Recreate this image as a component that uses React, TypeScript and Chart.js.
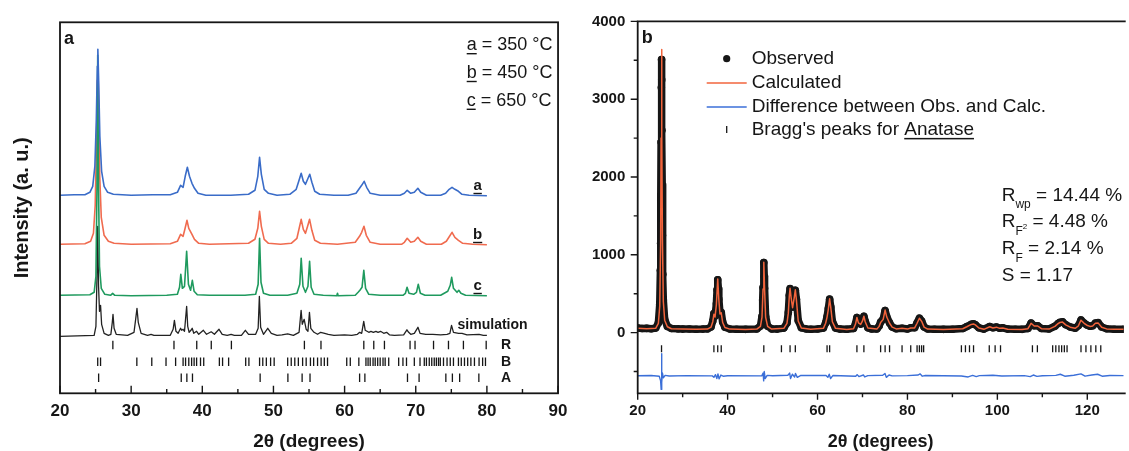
import React, { useEffect, useRef } from "react";
import { Chart, registerables } from "chart.js";

Chart.register(...registerables);

const FONT = '"Liberation Sans", Arial, Helvetica, sans-serif';
const INK = "#161616";
const BLUE = "#3a6cc8";
const RED = "#f06b4f";
const GREEN = "#1f9a5e";
const CALC = "#f2643c";
const DIFF = "#3b6fd8";

// ================= Panel a =================
const xMajorA = [20, 30, 40, 50, 60, 70, 80, 90];
const xMinorA = [25, 35, 45, 55, 65, 75, 85];

const offset350 = 197;
const offset450 = 148;
const offset650 = 97;
const offsetSim = 57;

const pattern350: [number, number][] = [
  [20, 1], [22, 1.5], [23.5, 1.5], [24.2, 4], [24.6, 10], [24.9, 30], [25.1, 75], [25.25, 130], [25.32, 147],
  [25.42, 120], [25.6, 60], [25.85, 25], [26.2, 10], [26.7, 4], [27.5, 2], [30, 1], [33, 1.5], [35.5, 1.5],
  [36.5, 4], [36.95, 11], [37.3, 9], [37.6, 20], [37.9, 29], [38.2, 20], [38.55, 13], [38.9, 8], [39.4, 3],
  [40.5, 1], [44, 1], [46.5, 2], [47.4, 6], [47.8, 20], [48.05, 39], [48.3, 22], [48.7, 7], [49.3, 3],
  [50.5, 1], [52.3, 2], [53.2, 7], [53.6, 16], [53.9, 23], [54.2, 15], [54.5, 12], [54.8, 17], [55.1, 22],
  [55.4, 14], [55.8, 5], [56.5, 2], [58.5, 1], [60.5, 1], [61.6, 3], [62.1, 8], [62.4, 11], [62.75, 15],
  [63.1, 9], [63.6, 3], [65, 1], [67.8, 1], [68.4, 3], [68.8, 6], [69.3, 3], [69.8, 4], [70.3, 8], [70.7, 4],
  [71.5, 1], [73.5, 1], [74.2, 3], [74.7, 7], [75.1, 9], [75.5, 7], [76.0, 5], [76.5, 2], [77.5, 1], [80, 0.5],
];

const pattern450: [number, number][] = [
  [20, 1], [23.5, 1.5], [24.3, 4], [24.7, 12], [24.95, 40], [25.12, 100], [25.25, 165], [25.32, 183],
  [25.42, 150], [25.58, 70], [25.8, 28], [26.2, 10], [26.8, 4], [27.6, 2], [30, 1], [35.5, 1.5], [36.5, 4],
  [36.95, 11], [37.3, 9], [37.55, 16], [37.85, 25], [38.1, 17], [38.55, 11], [38.9, 6], [39.5, 2], [41, 1],
  [46.5, 2], [47.4, 6], [47.8, 17], [48.05, 34], [48.3, 19], [48.7, 6], [49.3, 2], [51, 1], [52.5, 2],
  [53.3, 7], [53.65, 18], [53.9, 26], [54.2, 16], [54.5, 12], [54.8, 19], [55.08, 26], [55.4, 15], [55.8, 5],
  [56.6, 2], [59, 1], [61.5, 3], [62.1, 9], [62.4, 13], [62.72, 19], [63.05, 10], [63.6, 3], [65, 1], [68, 1],
  [68.4, 3], [68.8, 7], [69.3, 3], [69.8, 4], [70.3, 8], [70.7, 4], [71.5, 1], [73.6, 1], [74.3, 4],
  [74.75, 9], [75.1, 13], [75.5, 8], [76.0, 5], [76.6, 2], [78, 1], [80, 0.5],
];

const pattern650: [number, number][] = [
  [20, 1], [24.2, 1.5], [24.8, 4], [25.05, 20], [25.2, 110], [25.3, 241], [25.4, 120], [25.55, 30], [25.8, 8],
  [26.3, 2], [27.1, 1], [27.4, 3], [27.7, 1], [30, 0.5], [35, 1], [36.5, 2], [36.8, 9], [36.98, 22], [37.2, 8],
  [37.5, 10], [37.8, 45], [38.05, 12], [38.35, 6], [38.6, 16], [38.85, 5], [39.3, 1.5], [41, 1], [46, 1],
  [47.5, 2], [47.85, 12], [48.05, 58], [48.25, 14], [48.6, 3], [49.5, 1], [52, 1], [53.3, 3], [53.7, 12],
  [53.9, 38], [54.15, 10], [54.5, 4], [54.85, 10], [55.08, 35], [55.3, 9], [55.7, 2], [57, 1], [58.9, 0.5],
  [59.0, 3], [59.1, 0.5], [61.5, 1], [61.9, 4], [62.15, 6], [62.45, 9], [62.7, 26], [62.95, 8], [63.4, 2],
  [65, 1], [68.2, 1], [68.55, 3], [68.78, 9], [69.05, 3], [69.7, 2], [70.1, 4], [70.35, 12], [70.65, 3],
  [71.3, 1], [73.5, 1], [74.0, 3], [74.5, 5], [74.85, 11], [75.05, 19], [75.3, 8], [75.8, 4], [76.05, 6],
  [76.35, 3], [77, 1], [80, 0.5],
];

const simulation: [number, number][] = [
  [20, 0], [24.8, 1], [25.05, 10], [25.2, 60], [25.3, 110], [25.42, 50], [25.55, 25], [25.7, 31], [25.85, 12],
  [26.2, 3], [26.8, 1], [27.15, 2], [27.35, 14], [27.45, 22], [27.6, 8], [27.9, 2], [29.5, 1], [30.4, 4],
  [30.65, 18], [30.82, 28], [31.0, 14], [31.4, 3], [32.3, 1], [32.8, 2], [33.2, 1], [35.5, 1], [35.9, 7],
  [36.08, 16], [36.3, 5], [36.6, 3], [36.95, 8], [37.1, 6], [37.3, 7], [37.5, 5], [37.8, 30], [37.95, 10],
  [38.15, 4], [38.4, 6], [38.58, 8], [38.8, 3], [39.2, 5], [39.5, 2], [40.15, 6], [40.6, 2], [41.25, 4.5],
  [41.7, 2], [42.35, 7], [42.8, 2], [43.5, 1], [44.05, 2], [44.5, 1], [45.5, 1], [46.05, 6], [46.5, 2],
  [47.5, 2], [47.85, 8], [48.02, 40], [48.2, 9], [48.6, 2], [49.2, 8], [49.7, 3], [50.5, 1], [51.2, 1.5],
  [52.0, 2.5], [52.8, 1], [53.6, 4], [53.89, 26], [54.05, 12], [54.32, 17], [54.6, 7], [54.85, 5], [55.06, 24],
  [55.25, 8], [55.7, 4], [56.2, 2], [56.64, 4], [57.2, 3], [57.7, 2], [58.5, 1], [59.99, 1.5], [61, 1],
  [61.8, 2], [62.12, 4], [62.4, 3], [62.69, 15], [62.9, 6], [63.4, 4], [63.7, 5], [64.04, 4], [64.4, 5],
  [64.7, 4], [65.05, 5], [65.5, 3], [65.9, 4], [66.3, 1.5], [67, 1], [68.3, 1.5], [68.76, 6.5], [69.0, 4],
  [69.3, 2], [69.8, 3], [70.31, 9], [70.6, 3], [71.4, 2], [72.4, 2], [73.5, 1.5], [74.4, 2], [74.8, 3],
  [75.03, 11], [75.3, 4], [76.02, 3], [76.5, 3], [77.2, 1.5], [78.9, 2], [79.5, 1], [80, 1],
];

const rutileTicks = [27.43, 36.02, 39.22, 41.26, 44.09, 54.35, 56.68, 62.7, 64.1, 65.6, 69.2, 69.9, 72.5, 74.6, 76.7, 79.9];
const brookiteTicks = [
  25.3, 25.7, 30.8, 32.9, 34.9, 36.25, 37.3, 37.65, 38.1, 38.5, 38.85, 39.2, 39.75, 40.2, 42.4, 42.85, 43.7,
  46.1, 46.55, 48.05, 48.5, 49.0, 49.6, 50.1, 52.0, 52.5, 53.0, 53.5, 54.1, 54.6, 55.2, 55.65, 56.2, 56.7,
  57.15, 57.6, 60.3, 60.8, 62.0, 63.0, 63.3, 63.6, 64.0, 64.3, 64.65, 65.0, 65.4, 65.7, 66.2, 67.6, 68.2,
  68.7, 69.8, 70.6, 71.2, 71.5, 71.9, 72.25, 72.6, 72.9, 73.2, 73.45, 73.9, 74.4, 74.85, 75.3, 76.0, 76.4,
  76.85, 77.3, 77.75, 78.25, 78.9, 79.4, 79.8,
];
const anataseTicksA = [25.43, 37.04, 37.83, 38.62, 48.13, 52.03, 54.03, 55.14, 62.11, 62.85, 68.84, 70.47, 74.23, 75.15, 76.17, 78.87];
const rowR = 48.3;
const rowB = 31.6;
const rowA = 15.6;
const phaseRows: [string, number][] = [["R", rowR], ["B", rowB], ["A", rowA]];
const tempLegend: [string, string][] = [["a", " = 350 °C"], ["b", " = 450 °C"], ["c", " = 650 °C"]];
const curveTags: [string, number][] = [["a", offset350], ["b", offset450], ["c", offset650]];

// ================= Panel b =================
const xMajorB = [20, 40, 60, 80, 100, 120];
const xMinorB = [30, 50, 70, 90, 110];
const yMajorB = [0, 1000, 2000, 3000, 4000];
const yMinorB = [-500, 500, 1500, 2500, 3500];

const calculatedProfile: [number, number][] = [
  [20, 55], [22, 50], [24, 55], [24.6, 120], [24.9, 340], [25.1, 1150], [25.2, 2500], [25.3, 3640], [25.4, 2550],
  [25.5, 1200], [25.7, 400], [26.0, 160], [26.6, 75], [27.5, 50], [30, 45], [33, 42], [35.5, 45], [36.3, 70],
  [36.7, 140], [36.95, 235], [37.2, 200], [37.5, 360], [37.8, 690], [38.05, 420], [38.3, 240], [38.58, 255],
  [38.9, 130], [39.4, 65], [40.5, 45], [44, 40], [46.5, 45], [47.3, 80], [47.65, 200], [47.88, 560],
  [48.05, 905], [48.22, 560], [48.45, 200], [48.9, 80], [49.8, 45], [52.5, 55], [53.2, 120], [53.5, 250],
  [53.72, 470], [53.89, 570], [54.1, 460], [54.45, 320], [54.82, 450], [55.06, 550], [55.3, 420], [55.7, 150],
  [56.4, 60], [58.5, 42], [61.3, 55], [61.8, 120], [62.12, 200], [62.4, 300], [62.69, 435], [62.95, 320],
  [63.3, 140], [64.0, 55], [66.5, 40], [68.0, 50], [68.45, 110], [68.76, 195], [69.1, 125], [69.6, 105],
  [70.0, 150], [70.31, 210], [70.6, 140], [71.2, 60], [73.2, 45], [73.7, 80], [74.03, 130], [74.6, 170],
  [75.03, 290], [75.4, 200], [76.02, 120], [76.6, 70], [77.5, 48], [78.8, 55], [80.0, 45], [80.73, 60],
  [81.6, 60], [82.14, 120], [82.66, 185], [83.15, 145], [83.7, 70], [84.5, 45], [88, 40], [92.3, 50],
  [93.2, 75], [94.2, 105], [94.7, 110], [95.1, 100], [95.9, 60], [97.0, 42], [98.3, 75], [99.0, 60],
  [99.8, 70], [100.5, 55], [101.2, 60], [102.3, 42], [105.5, 40], [106.8, 50], [107.5, 120], [108.2, 85],
  [108.97, 85], [109.8, 50], [111.5, 45], [112.8, 80], [113.5, 115], [113.9, 130], [114.5, 135], [115.2, 100],
  [116.2, 70], [117.3, 55], [118.0, 85], [118.6, 160], [119.3, 120], [119.9, 95], [120.6, 80], [121.2, 85],
  [121.8, 120], [122.4, 125], [123.2, 70], [124.3, 48], [126, 42], [128.1, 42],
];

const observedProfile: [number, number][] = [
  [20, 60], [21, 52], [22, 55], [23, 50], [24, 58], [24.6, 125], [24.9, 360], [25.05, 800], [25.1, 1150],
  [25.15, 1700], [25.2, 2450], [25.25, 3150], [25.3, 3510], [25.35, 3250], [25.4, 2600], [25.45, 1900],
  [25.5, 1250], [25.6, 750], [25.7, 420], [26.0, 170], [26.6, 80], [27.5, 52], [29, 48], [30, 45], [31.5, 47],
  [33, 43], [34.5, 45], [35.5, 48], [36.3, 72], [36.7, 150], [36.95, 245], [37.2, 210], [37.5, 370],
  [37.65, 550], [37.8, 680], [37.95, 560], [38.05, 430], [38.3, 250], [38.58, 260], [38.9, 135], [39.4, 68],
  [40.5, 46], [42, 44], [44, 42], [46.5, 47], [47.3, 85], [47.65, 210], [47.8, 420], [47.88, 580], [48.05, 900],
  [48.15, 720], [48.22, 570], [48.45, 210], [48.9, 82], [49.8, 48], [51, 45], [52.5, 58], [53.2, 125],
  [53.5, 260], [53.72, 480], [53.89, 565], [54.1, 470], [54.45, 330], [54.82, 455], [55.06, 545], [55.3, 430],
  [55.7, 155], [56.4, 62], [57.5, 47], [58.5, 44], [60, 46], [61.3, 58], [61.8, 125], [62.12, 205], [62.4, 310],
  [62.69, 430], [62.95, 330], [63.3, 145], [64.0, 58], [65, 45], [66.5, 43], [68.0, 52], [68.45, 115],
  [68.76, 195], [69.1, 130], [69.6, 110], [70.0, 155], [70.31, 210], [70.6, 145], [71.2, 62], [72, 48],
  [73.2, 47], [73.7, 85], [74.03, 135], [74.6, 175], [75.03, 285], [75.4, 205], [76.02, 125], [76.6, 72],
  [77.5, 50], [78.8, 57], [80.0, 47], [80.73, 62], [81.6, 62], [82.14, 125], [82.66, 185], [83.15, 150],
  [83.7, 72], [84.5, 47], [86, 44], [88, 42], [90, 43], [92.3, 52], [93.2, 78], [94.2, 108], [94.7, 112],
  [95.1, 102], [95.9, 62], [97.0, 45], [98.3, 78], [99.0, 62], [99.8, 72], [100.5, 57], [101.2, 62],
  [102.3, 45], [104, 43], [105.5, 42], [106.8, 52], [107.5, 122], [108.2, 88], [108.97, 88], [109.8, 52],
  [111.5, 47], [112.8, 82], [113.5, 118], [113.9, 132], [114.5, 138], [115.2, 102], [116.2, 72], [117.3, 57],
  [118.0, 88], [118.6, 162], [119.3, 122], [119.9, 98], [120.6, 82], [121.2, 88], [121.8, 122], [122.4, 128],
  [123.2, 72], [124.3, 50], [126, 44], [128.1, 44],
];

const differenceProfile: [number, number][] = [
  [20, -555], [23, -552], [24.8, -560], [25.1, -620], [25.22, -730], [25.3, -270], [25.38, -640], [25.5, -520],
  [25.7, -580], [26.1, -550], [27, -557], [31, -553], [36.6, -556], [36.95, -575], [37.3, -540], [37.6, -590],
  [37.85, -530], [38.1, -595], [38.5, -545], [39, -560], [40, -554], [47.6, -556], [47.9, -520], [48.02, -620],
  [48.15, -500], [48.35, -590], [48.8, -550], [50, -555], [53.4, -548], [53.8, -520], [54.0, -590],
  [54.4, -535], [54.9, -570], [55.1, -525], [55.5, -575], [56.2, -552], [61.9, -550], [62.3, -575],
  [62.6, -535], [62.9, -590], [63.4, -552], [68.5, -560], [68.8, -540], [69.2, -565], [70.2, -545],
  [70.5, -570], [71.2, -553], [74.5, -548], [75.0, -525], [75.3, -575], [75.9, -545], [76.6, -556], [80, -553],
  [82.4, -545], [82.8, -530], [83.3, -560], [84, -552], [92, -557], [93.5, -570], [94.5, -550], [95.3, -565],
  [96, -553], [99, -548], [101, -558], [106, -553], [107.3, -565], [108, -545], [108.8, -562], [110, -554],
  [113, -550], [114, -535], [115, -560], [117, -548], [118.6, -530], [119.5, -560], [121, -545], [122.3, -535],
  [123.3, -560], [125, -552], [128.1, -553],
];

const braggAnatase = [
  25.3, 36.95, 37.8, 38.58, 48.05, 51.97, 53.89, 55.06, 62.12, 62.69, 68.76, 70.31, 74.03, 75.03, 76.02, 78.8,
  80.73, 82.14, 82.66, 83.15, 83.6, 92.0, 92.9, 93.8, 94.7, 98.2, 99.5, 100.7, 107.8, 108.9, 112.3, 113.0,
  113.7, 114.3, 114.9, 115.5, 118.6, 119.7, 120.8, 121.9, 123.0,
];
const braggRow = -207;

const legendB = ["Observed", "Calculated", "Difference between Obs. and Calc.", "Bragg's peaks for "];
const fitStats: [string, string, string, string][] = [
  ["R", "wp", "", " = 14.44 %"],
  ["R", "F", "2", " = 4.48 %"],
  ["R", "F", "", " = 2.14 %"],
  ["S", "", "", " = 1.17"],
];

// ================= helpers =================
const toXY = (pts: [number, number][], off = 0) => pts.map(([x, y]) => ({ x, y: y + off }));
const tickRow = (xs: number[], row: number) => xs.map((x) => ({ x, y: row }));

const lineDs = (data: any[], color: string, width: number) => ({
  data,
  borderColor: color,
  borderWidth: width,
  pointRadius: 0,
  tension: 0,
  fill: false,
  borderJoinStyle: "round",
});

const tickDs = (data: any[], radius: number) => ({
  data,
  showLine: false,
  pointStyle: "line",
  pointRotation: 90,
  rotation: 90,
  pointRadius: radius,
  pointBorderWidth: 1.3,
  pointBorderColor: INK,
  borderColor: INK,
  backgroundColor: INK,
});

const decorA = {
  id: "decorA",
  afterDraw(chart: any) {
    const { ctx, chartArea: ca, scales } = chart;
    const sx = scales.x;
    const sy = scales.y;
    ctx.save();
    ctx.strokeStyle = INK;
    ctx.lineWidth = 1.8;
    ctx.strokeRect(ca.left, ca.top, ca.right - ca.left, ca.bottom - ca.top);
    ctx.beginPath();
    xMajorA.forEach((v) => {
      const p = sx.getPixelForValue(v);
      ctx.moveTo(p, ca.bottom);
      ctx.lineTo(p, ca.bottom - 7.5);
    });
    xMinorA.forEach((v) => {
      const p = sx.getPixelForValue(v);
      ctx.moveTo(p, ca.bottom);
      ctx.lineTo(p, ca.bottom - 4.3);
    });
    ctx.lineWidth = 1.4;
    ctx.stroke();

    ctx.fillStyle = INK;
    ctx.textBaseline = "middle";
    ctx.textAlign = "left";
    ctx.font = `bold 18px ${FONT}`;
    ctx.fillText("a", ca.left + 4, ca.top + 17);

    ctx.font = `18px ${FONT}`;
    tempLegend.forEach(([letter, rest], i) => {
      const x = ca.left + 406.7;
      const y = ca.top + 22.7 + i * 27.8;
      ctx.fillText(letter, x, y);
      const w = ctx.measureText(letter).width;
      ctx.fillRect(x, y + 8, w, 1.4);
      ctx.fillText(rest, x + w, y);
    });

    ctx.font = `bold 15px ${FONT}`;
    ctx.textAlign = "center";
    curveTags.forEach(([t, off]) => {
      const x = sx.getPixelForValue(78.7);
      const y = sy.getPixelForValue(off + 10.5);
      ctx.fillText(t, x, y);
      const w = ctx.measureText(t).width;
      ctx.fillRect(x - w / 2, y + 7, w, 1.4);
    });

    ctx.font = `bold 14px ${FONT}`;
    ctx.fillText("simulation", sx.getPixelForValue(80.8), sy.getPixelForValue(offsetSim + 11.5));
    phaseRows.forEach(([t, row]) => {
      ctx.fillText(t, sx.getPixelForValue(82.7), sy.getPixelForValue(row));
    });
    ctx.restore();
  },
};

const decorB = {
  id: "decorB",
  afterDraw(chart: any) {
    const { ctx, chartArea: ca, scales } = chart;
    const sx = scales.x;
    const sy = scales.y;
    ctx.save();
    ctx.strokeStyle = INK;
    ctx.lineWidth = 1.8;
    ctx.beginPath();
    ctx.moveTo(ca.right + 2, ca.top);
    ctx.lineTo(ca.left, ca.top);
    ctx.lineTo(ca.left, ca.bottom);
    ctx.lineTo(ca.right + 2, ca.bottom);
    ctx.stroke();

    ctx.beginPath();
    yMajorB.forEach((v) => {
      const p = sy.getPixelForValue(v);
      ctx.moveTo(ca.left, p);
      ctx.lineTo(ca.left - 7, p);
    });
    yMinorB.forEach((v) => {
      const p = sy.getPixelForValue(v);
      ctx.moveTo(ca.left, p);
      ctx.lineTo(ca.left - 4, p);
    });
    xMajorB.forEach((v) => {
      const p = sx.getPixelForValue(v);
      ctx.moveTo(p, ca.bottom);
      ctx.lineTo(p, ca.bottom + 6.5);
    });
    xMinorB.forEach((v) => {
      const p = sx.getPixelForValue(v);
      ctx.moveTo(p, ca.bottom);
      ctx.lineTo(p, ca.bottom + 4);
    });
    ctx.lineWidth = 1.4;
    ctx.stroke();

    ctx.fillStyle = INK;
    ctx.textBaseline = "middle";
    ctx.textAlign = "left";
    ctx.font = `bold 18px ${FONT}`;
    ctx.fillText("b", ca.left + 4, ca.top + 16.5);

    // legend
    const rows = [37.3, 61.5, 85.7, 108];
    const markX = ca.left + 89;
    const textX = ca.left + 114;
    ctx.font = `19px ${FONT}`;
    legendB.forEach((t, i) => {
      ctx.fillStyle = INK;
      ctx.fillText(t, textX, ca.top + rows[i]);
    });
    const wB = ctx.measureText(legendB[3]).width;
    const yB = ca.top + rows[3];
    ctx.fillText("Anatase", textX + wB, yB);
    const wA = ctx.measureText("Anatase").width;
    ctx.fillRect(textX + wB, yB + 8.5, wA, 1.5);

    ctx.beginPath();
    ctx.arc(markX, ca.top + rows[0], 3.6, 0, Math.PI * 2);
    ctx.fill();
    ctx.lineWidth = 1.5;
    ctx.strokeStyle = CALC;
    ctx.beginPath();
    ctx.moveTo(ca.left + 69, ca.top + rows[1]);
    ctx.lineTo(ca.left + 109, ca.top + rows[1]);
    ctx.stroke();
    ctx.strokeStyle = DIFF;
    ctx.beginPath();
    ctx.moveTo(ca.left + 69, ca.top + rows[2]);
    ctx.lineTo(ca.left + 109, ca.top + rows[2]);
    ctx.stroke();
    ctx.strokeStyle = INK;
    ctx.lineWidth = 1.3;
    ctx.beginPath();
    ctx.moveTo(markX, yB - 3.5);
    ctx.lineTo(markX, yB + 3.5);
    ctx.stroke();

    // fit statistics
    const sx0 = ca.left + 364;
    const statRows = [174, 200.7, 227.3, 254];
    fitStats.forEach(([main, sub, sup, rest], i) => {
      const y = ca.top + statRows[i];
      ctx.font = `19px ${FONT}`;
      ctx.fillText(main, sx0, y);
      let x = sx0 + ctx.measureText(main).width;
      if (sub) {
        ctx.font = `12px ${FONT}`;
        ctx.fillText(sub, x, y + 9.5);
        const ws = ctx.measureText(sub).width;
        if (sup) {
          ctx.font = `8px ${FONT}`;
          ctx.fillText(sup, x + ws, y + 4.5);
          x += ws + ctx.measureText(sup).width;
        } else {
          x += ws;
        }
      }
      ctx.font = `19px ${FONT}`;
      ctx.fillText(rest, x, y);
    });
    ctx.restore();
  },
};

function configA(): any {
  return {
    type: "line",
    data: {
      datasets: [
        lineDs(toXY(pattern350, offset350), BLUE, 1.6),
        lineDs(toXY(pattern650, offset650), GREEN, 1.6),
        lineDs(toXY(pattern450, offset450), RED, 1.6),
        lineDs(toXY(simulation, offsetSim), "#222", 1.3),
        tickDs(tickRow(rutileTicks, rowR), 4.3),
        tickDs(tickRow(brookiteTicks, rowB), 4.3),
        tickDs(tickRow(anataseTicksA, rowA), 4.3),
      ],
    },
    options: {
      responsive: false,
      animation: false,
      events: [],
      layout: { padding: { top: 22.3, right: 12, left: 0, bottom: 0 } },
      plugins: { legend: { display: false }, tooltip: { enabled: false } },
      scales: {
        x: {
          type: "linear",
          min: 20,
          max: 90,
          afterBuildTicks: (s: any) => {
            s.ticks = xMajorA.map((v) => ({ value: v }));
          },
          afterFit: (s: any) => {
            s.height = 57.7;
          },
          grid: { display: false, drawTicks: false },
          border: { display: false },
          ticks: {
            padding: 7.5,
            color: INK,
            maxRotation: 0,
            autoSkip: false,
            callback: (v: any) => `${v}`,
            font: { family: FONT, size: 17, weight: "bold" },
          },
          title: {
            display: true,
            text: "2θ (degrees)",
            color: INK,
            font: { family: FONT, size: 19, weight: "bold", lineHeight: 1 },
            padding: { top: 0, bottom: 0 },
          },
        },
        y: {
          type: "linear",
          min: 0,
          max: 371,
          afterFit: (s: any) => {
            s.width = 60;
          },
          grid: { display: false, drawTicks: false },
          border: { display: false },
          ticks: { display: false },
          title: {
            display: true,
            text: "Intensity (a. u.)",
            color: INK,
            font: { family: FONT, size: 20, weight: "bold", lineHeight: 1 },
            padding: { top: 12, bottom: 0 },
          },
        },
      },
    },
    plugins: [decorA],
  };
}

function configB(): any {
  return {
    type: "line",
    data: {
      datasets: [
        lineDs(toXY(calculatedProfile), CALC, 1.5),
        lineDs(toXY(differenceProfile), DIFF, 1.4),
        tickDs(tickRow(braggAnatase, braggRow), 3.5),
        {
          data: toXY(observedProfile),
          borderColor: INK,
          borderWidth: 7.5,
          borderJoinStyle: "round",
          borderCapStyle: "round",
          tension: 0,
          fill: false,
          pointRadius: 3.8,
          pointBorderWidth: 0,
          pointBackgroundColor: INK,
          pointBorderColor: INK,
        },
      ],
    },
    options: {
      responsive: false,
      animation: false,
      events: [],
      layout: { padding: { top: 16, right: 0, left: 0, bottom: 0 } },
      plugins: { legend: { display: false }, tooltip: { enabled: false } },
      scales: {
        x: {
          type: "linear",
          min: 20,
          max: 128.1,
          afterBuildTicks: (s: any) => {
            s.ticks = xMajorB.map((v) => ({ value: v }));
          },
          afterFit: (s: any) => {
            s.height = 57.7;
          },
          grid: { display: false, drawTicks: false },
          border: { display: false },
          ticks: {
            padding: 8.7,
            color: INK,
            maxRotation: 0,
            autoSkip: false,
            callback: (v: any) => `${v}`,
            font: { family: FONT, size: 15, weight: "bold" },
          },
          title: {
            display: true,
            text: "2θ (degrees)",
            color: INK,
            font: { family: FONT, size: 18, weight: "bold", lineHeight: 1 },
            padding: { top: 0, bottom: 0 },
          },
        },
        y: {
          type: "linear",
          min: -780,
          max: 4000,
          afterBuildTicks: (s: any) => {
            s.ticks = yMajorB.map((v) => ({ value: v }));
          },
          afterFit: (s: any) => {
            s.width = 62.7;
          },
          grid: { display: false, drawTicks: false },
          border: { display: false },
          ticks: {
            padding: 12.4,
            color: INK,
            autoSkip: false,
            callback: (v: any) => `${v}`,
            font: { family: FONT, size: 15, weight: "bold" },
          },
        },
      },
    },
    plugins: [decorB],
  };
}

export default function App() {
  const refA = useRef<HTMLCanvasElement>(null);
  const refB = useRef<HTMLCanvasElement>(null);

  useEffect(() => {
    const a = new Chart(refA.current as HTMLCanvasElement, configA());
    const b = new Chart(refB.current as HTMLCanvasElement, configB());
    return () => {
      a.destroy();
      b.destroy();
    };
  }, []);

  return (
    <div
      style={{
        position: "absolute",
        left: 0,
        top: 0,
        width: 1129,
        height: 451,
        background: "#fff",
        overflow: "hidden",
      }}
    >
      <canvas
        ref={refA}
        width={575}
        height={451}
        style={{ position: "absolute", left: 0, top: 0, width: 575, height: 451 }}
      />
      <canvas
        ref={refB}
        width={554}
        height={451}
        style={{ position: "absolute", left: 575, top: 0, width: 554, height: 451 }}
      />
    </div>
  );
}
